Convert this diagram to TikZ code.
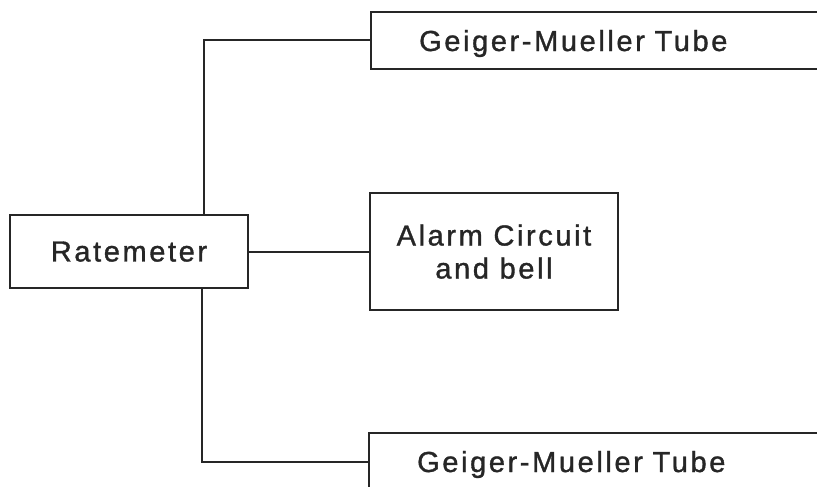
\documentclass[tikz,border=0pt]{standalone}
\usepackage{fontspec}
\newfontfamily\lettering[LetterSpace=9,FakeBold=1.2]{Liberation Sans}
\usetikzlibrary{positioning}

\begin{document}
\begin{tikzpicture}[x=1pt,y=-1pt,
  unitbox/.style={draw=black!85, line width=2.4pt, text=black!85,
    font={\lettering\fontsize{29}{33}\selectfont}, inner sep=0pt,
    text depth=0pt, align=center},
  tubebox/.style={unitbox, anchor=west, minimum height=57pt,
    text width=420pt, inner xsep=48pt, align=left},
  wire/.style={draw=black!85, line width=2pt}]
\useasboundingbox (0,0) rectangle (817,487);
\node[unitbox, minimum width=238pt, minimum height=73pt] (rate) at (129,251.5) {Ratemeter};
\node[unitbox, minimum width=248pt, minimum height=117pt] (alarm) at (494,251.5) {Alarm Circuit\\and bell};
\node[tubebox] (tubeA) at (370,40.5) {Geiger-Mueller Tube};
\node[tubebox] (tubeB) at (368,461.5) {Geiger-Mueller Tube};
% wiring
\draw[wire] ([xshift=75pt]rate.north) |- (tubeA.west);
\draw[wire] (rate.east) -- (alarm.west);
\draw[wire] ([xshift=73pt]rate.south) |- (tubeB.west);
\end{tikzpicture}
\end{document}
